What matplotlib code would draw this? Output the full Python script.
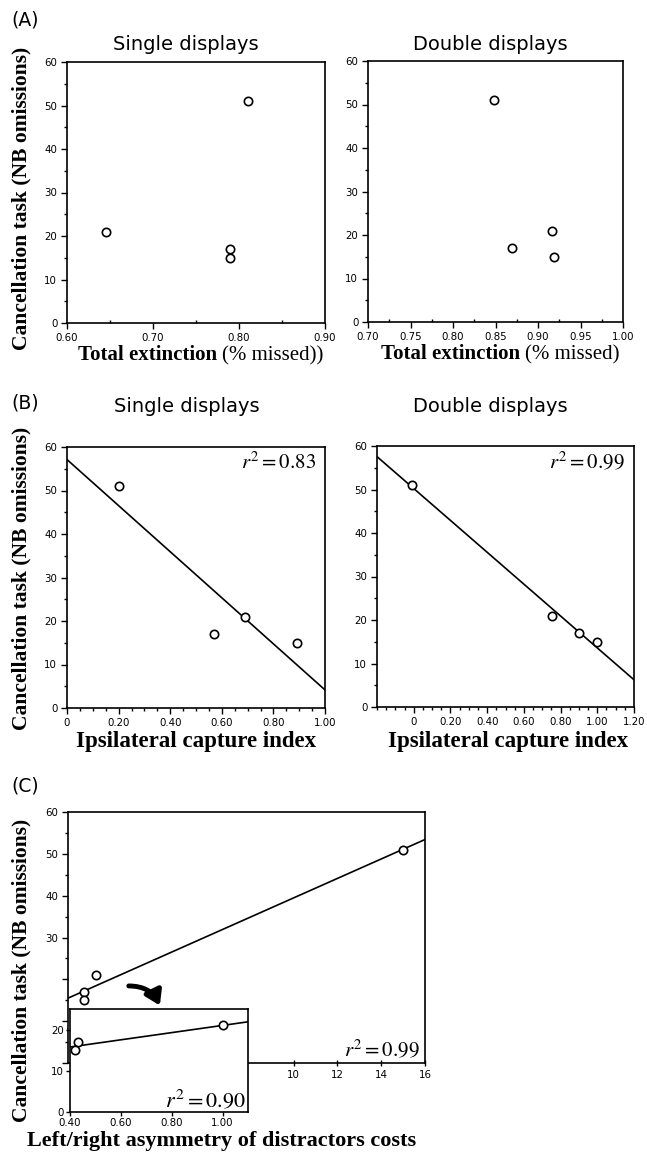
import numpy as np
import matplotlib
matplotlib.use("Agg")
import matplotlib.pyplot as plt
from matplotlib.ticker import FixedLocator, MultipleLocator

# ---------------- data ----------------
canc = [51, 21, 17, 15]                       # Cancellation task (NB omissions)
ext_single = [0.81, 0.645, 0.79, 0.79]         # Total extinction, single displays
ext_double = [0.848, 0.916, 0.869, 0.919]      # Total extinction, double displays
ici_single = [0.20, 0.69, 0.57, 0.89]          # Ipsilateral capture index, single
ici_double = [-0.01, 0.755, 0.90, 1.00]        # Ipsilateral capture index, double
asym = [15.0, 1.0, 0.43, 0.42]                 # Left/right asymmetry of distractor costs
canc_inset = [21, 17, 15]
asym_inset = [1.0, 0.43, 0.42]

ytick_vals = [0, 10, 20, 30, 40, 50, 60]
ytick_labels = ["0", "10", "20", "30", "40", "50", "60"]
xt_A1 = [0.60, 0.70, 0.80, 0.90]
xl_A1 = ["0.60", "0.70", "0.80", "0.90"]
xt_A2 = [0.70, 0.75, 0.80, 0.85, 0.90, 0.95, 1.00]
xl_A2 = ["0.70", "0.75", "0.80", "0.85", "0.90", "0.95", "1.00"]
xt_B1 = [0, 0.2, 0.4, 0.6, 0.8, 1.0]
xl_B1 = ["0", "0.20", "0.40", "0.60", "0.80", "1.00"]
xt_B2 = [0, 0.2, 0.4, 0.6, 0.8, 1.0, 1.2]
xl_B2 = ["0", "0.20", "0.40", "0.60", "0.80", "1.00", "1.20"]
xt_C = [10, 12, 14, 16]
xl_C = ["10", "12", "14", "16"]
yl_C = ["", "", "", "30", "40", "50", "60"]
xt_in = [0.4, 0.6, 0.8, 1.0]
xl_in = ["0.40", "0.60", "0.80", "1.00"]
yt_in = [0, 10, 20]
yl_in = ["0", "10", "20"]

r2_B1 = r"$r^2 = 0.83$"
r2_B2 = r"$r^2 = 0.99$"
r2_C = r"$r^2 = 0.99$"
r2_in = r"$r^2 = 0.90$"

# ---------------- style ----------------
plt.rcParams["mathtext.fontset"] = "stix"
plt.rcParams["font.family"] = ["DejaVu Sans"]
W, H = 647, 1152
fig = plt.figure(figsize=(W / 100, H / 100), dpi=100)

TICKFS = 7.4
SERIF = "Liberation Serif"


def px_axes(x0, y0, x1, y1):
    return fig.add_axes([x0 / W, 1 - y1 / H, (x1 - x0) / W, (y1 - y0) / H])


def style(ax, xt, xl, xlim, xminor=None, ylim=(0, 60), yt=ytick_vals, yl=ytick_labels,
          yminor=5, xdir="out", xminor_dir="out"):
    ax.set_xlim(*xlim)
    ax.set_ylim(*ylim)
    ax.xaxis.set_major_locator(FixedLocator(xt))
    ax.set_xticklabels(xl)
    ax.yaxis.set_major_locator(FixedLocator(yt))
    ax.set_yticklabels(yl)
    if xminor:
        ax.xaxis.set_minor_locator(MultipleLocator(xminor))
    if yminor:
        ax.yaxis.set_minor_locator(MultipleLocator(yminor))
    ax.tick_params(axis="both", which="major", labelsize=TICKFS, length=4, width=1.0, pad=3)
    ax.tick_params(axis="both", which="minor", length=2, width=1.0)
    ax.tick_params(axis="x", which="major", direction=xdir)
    ax.tick_params(axis="x", which="minor", direction=xminor_dir)
    ax.tick_params(axis="y", which="both", direction="out")
    for s in ax.spines.values():
        s.set_linewidth(1.2)


def pts(ax, x, y):
    ax.plot(x, y, linestyle="none", marker="o", ms=6, mfc="white", mec="black", mew=1.2,
            zorder=5, clip_on=False)


def fit(ax, x, y, xr):
    k, b = np.polyfit(x, y, 1)
    xs = np.array(xr)
    ax.plot(xs, k * xs + b, color="black", lw=1.2, zorder=4)


def r2(ax, s, x, y, va="top", fs=15):
    ax.text(x, y, s, transform=ax.transAxes, ha="right", va=va, fontsize=fs, zorder=6)


# ---------------- Panel A ----------------
axA1 = px_axes(67, 62, 325, 323)
style(axA1, xt_A1, xl_A1, (0.60, 0.90), xminor=0.05, xminor_dir="in")
pts(axA1, ext_single, canc)

axA2 = px_axes(368, 61, 623, 322)
style(axA2, xt_A2, xl_A2, (0.70, 1.00), xminor=0.025, xminor_dir="in")
pts(axA2, ext_double, canc)

# ---------------- Panel B ----------------
axB1 = px_axes(67, 447, 325, 708)
style(axB1, xt_B1, xl_B1, (0, 1.0), xminor=0.05)
fit(axB1, ici_single, canc, [0, 1.0])
pts(axB1, ici_single, canc)
r2(axB1, r2_B1, 0.965, 0.985)

axB2 = px_axes(377, 446, 634, 707)
style(axB2, xt_B2, xl_B2, (-0.2, 1.2), xminor=0.05)
fit(axB2, ici_double, canc, [-0.2, 1.2])
pts(axB2, ici_double, canc)
r2(axB2, r2_B2, 0.965, 0.985)

# ---------------- Panel C ----------------
axC = px_axes(68, 812, 425, 1063)
style(axC, xt_C, xl_C, (-0.3, 16), yl=yl_C, xdir="inout")
fit(axC, asym, canc, [-0.3, 16])
pts(axC, asym, canc)
r2(axC, r2_C, 0.985, 0.01, va="bottom")

axI = px_axes(70, 1009, 248, 1112)
axI.set_zorder(10)
axI.set_facecolor("white")
style(axI, xt_in, xl_in, (0.4, 1.1), ylim=(0, 25), yt=yt_in, yl=yl_in, yminor=None)
axI.tick_params(axis="both", which="major", length=3, pad=1.5)
fit(axI, asym_inset, canc_inset, [0.4, 1.1])
pts(axI, asym_inset, canc_inset)
axI.text(0.985, 0.01, r2_in, transform=axI.transAxes, ha="right", va="bottom", fontsize=16)

# curved arrow pointing to the inset
axC.annotate("", xy=(161, H - 1008), xycoords="figure pixels",
             xytext=(126, H - 986), textcoords="figure pixels",
             arrowprops=dict(arrowstyle="-|>,head_length=0.7,head_width=0.45",
                             connectionstyle="arc3,rad=-0.35", lw=3.5,
                             color="black", mutation_scale=12),
             zorder=12)

# ---------------- text ----------------
def ftext(x, y, s, **kw):
    return fig.text(x / W, 1 - y / H, s, **kw)

ftext(11, 20, "(A)", fontsize=13.5, ha="left", va="center")
ftext(11, 403, "(B)", fontsize=13.5, ha="left", va="center")
ftext(11, 786, "(C)", fontsize=13.5, ha="left", va="center")

ftext(186, 45, "Single displays", fontsize=14, ha="center", va="center")
ftext(490, 44, "Double displays", fontsize=14, ha="center", va="center")
ftext(187, 406, "Single displays", fontsize=14, ha="center", va="center")
ftext(490, 406, "Double displays", fontsize=14, ha="center", va="center")

ylab = "Cancellation task (NB omissions)"
for yc in (198, 578, 970):
    ftext(21, yc, ylab, fontsize=15.5, fontweight="bold", family=SERIF,
          rotation=90, ha="center", va="center")


def mixed_xlabel(xl, yc, bold, regular, fs=15):
    t1 = ftext(xl, yc, bold, fontsize=fs, fontweight="bold", family=SERIF,
               ha="left", va="center")
    an = plt.annotate(regular, xy=(1, 0), xycoords=t1, xytext=(0, 0),
                      textcoords="offset points", fontsize=fs, family=SERIF,
                      ha="left", va="bottom", annotation_clip=False)
    return t1, an

mixed_xlabel(78, 355, "Total extinction ", "(% missed))")
mixed_xlabel(381, 354, "Total extinction ", "(% missed)")

ftext(196, 742, "Ipsilateral capture index", fontsize=16.5, fontweight="bold",
      family=SERIF, ha="center", va="center")
ftext(508, 742, "Ipsilateral capture index", fontsize=16.5, fontweight="bold",
      family=SERIF, ha="center", va="center")
ftext(222, 1141, "Left/right asymmetry of distractors costs", fontsize=16,
      fontweight="bold", family=SERIF, ha="center", va="center")

fig.savefig("out.png", dpi=100, facecolor="white")
